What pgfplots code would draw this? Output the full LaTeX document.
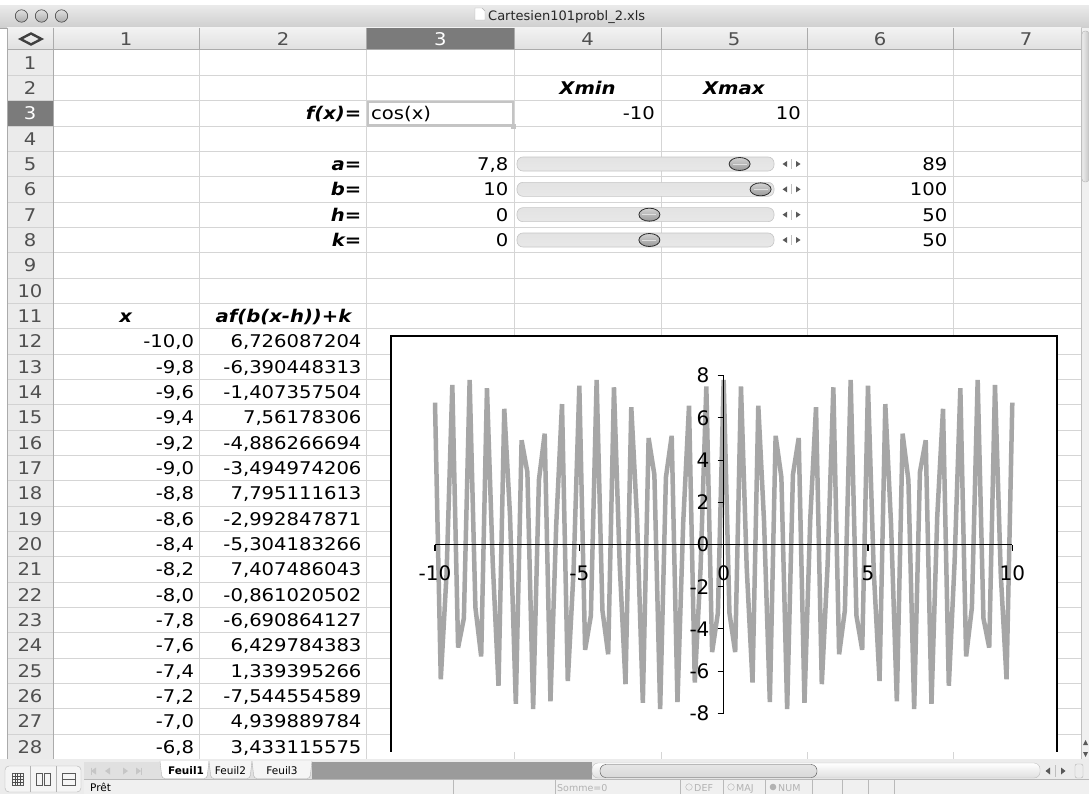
\documentclass[border=0pt]{standalone}
\usepackage{pgfplots}
\pgfplotsset{compat=1.18}
\usepackage{fontspec}
\setmainfont{DejaVu Sans}[FakeStretch=1.12]
\newfontfamily\chartfont{DejaVu Sans}
\newfontfamily\uifont{DejaVu Sans}
\definecolor{gridc}{HTML}{D5D5D5}
\definecolor{hdrtop}{HTML}{F2F2F2}
\definecolor{hdrbot}{HTML}{E0E0E0}
\definecolor{hdrline}{HTML}{ABABAB}
\definecolor{hdrtxt}{HTML}{505050}
\definecolor{sel}{HTML}{7B7B7B}
\definecolor{rowhdr}{HTML}{EBEBEB}
\definecolor{selbox}{HTML}{C4C4C4}
\definecolor{linec}{HTML}{A6A6A6}
\definecolor{tbtop}{HTML}{E9E9E9}
\definecolor{tbbot}{HTML}{CECECE}
\definecolor{band}{HTML}{9B9B9B}
\definecolor{statbg}{HTML}{F0F0F0}
\newcommand\cellfont{\fontsize{17.5}{21}\selectfont}
\newcommand\uismall{\uifont\fontsize{10.5}{12}\selectfont}
\newcommand\cellR[3]{\node[anchor=base east,inner sep=0pt,font=\cellfont] at (#1,{50+(#2-1)*25.333+19.3}) {#3};}
\newcommand\cellL[3]{\node[anchor=base west,inner sep=0pt,font=\cellfont] at (#1,{50+(#2-1)*25.333+19.3}) {#3};}
\newcommand\cellC[3]{\node[anchor=base,inner sep=0pt,font=\cellfont] at (#1,{50+(#2-1)*25.333+19.3}) {#3};}
\newcommand\slider[2]{%
  \pgfmathsetmacro\yc{50+(#1-1)*25.333+12.67}
  \shadedraw[top color=gray!22, middle color=white, bottom color=gray!18, draw=gray!45, rounded corners=6pt, line width=0.6pt] (517,\yc-7) rectangle (774,\yc+7);
  \fill[gray!70!black] (787,\yc-3) -- (787,\yc+3) -- (782.5,\yc) -- cycle;
  \fill[gray!70!black] (796,\yc-3) -- (796,\yc+3) -- (800.5,\yc) -- cycle;
  \draw[gray!50] (791.5,\yc-5) -- (791.5,\yc+5);
  \shadedraw[top color=gray!35, bottom color=gray!80, draw=gray!35!black, line width=0.8pt] (#2,\yc) ellipse [x radius=10.5pt, y radius=6.5pt];
  \draw[gray!25, line width=0.8pt] (#2-7,\yc) -- (#2+7,\yc);
}
\begin{document}
\begin{tikzpicture}
\useasboundingbox (0,0) rectangle (1089pt,-794pt);
\clip (0,0) rectangle (1089pt,-794pt);
\begin{scope}[x=1pt,y=-1pt]
  \fill[white] (0,0) rectangle (1089,794);
  % title bar
  \shade[top color=tbtop, bottom color=tbbot] (0,6) rectangle (1089,28);
  \draw[gray!70, line width=0.8pt] (0,28) -- (1089,28);
  \foreach \cx in {21.5,41.5,61.5} {\shadedraw[top color=gray!25, bottom color=gray!65, draw=gray!55!black, line width=0.6pt] (\cx,16) circle [radius=6.2pt];}
  \draw[gray!60, fill=white] (475,8) -- (482,8) -- (485,11) -- (485,20) -- (475,20) -- cycle;
  \node[anchor=base west, inner sep=0pt, font=\uifont\fontsize{13}{15}\selectfont, text=black!85] at (488,20.5) {Cartesien101probl\_2.xls};
  % grid
  \foreach \rr in {1,...,28} {\draw[gridc, line width=0.8pt] (53,{50+\rr*25.333}) -- (1081,{50+\rr*25.333});}
  \foreach \c in {199.3,366.7,514,661,807,953} {\draw[gridc, line width=0.8pt] (\c,50) -- (\c,759.3);}
  % column header
  \shade[top color=hdrtop, bottom color=hdrbot] (7,28) rectangle (1081,50);
  \fill[sel] (366.7,28) rectangle (514,50);
  \foreach \c in {53,199.3,366.7,514,661,807,953} {\draw[hdrline, line width=0.8pt] (\c,28) -- (\c,50);}
  \draw[hdrline, line width=1pt] (7,50) -- (1081,50);
  \foreach \cx/\lab in {126.2/1,283/2,587.5/4,734/5,880/6,1026/7} {\node[anchor=base,inner sep=0pt,font=\cellfont,text=hdrtxt] at (\cx,46) {\lab};}
  \node[anchor=base,inner sep=0pt,font=\cellfont,text=white] at (440.4,46) {3};
  \draw[black!75, line width=2.4pt, line join=miter] (20.5,39) -- (31,33.5) -- (41.5,39) -- (31,44.5) -- cycle;
  % row header
  \fill[rowhdr] (7,50) rectangle (53,759.3);
  \fill[sel] (7,{50+2*25.333}) rectangle (53,{50+3*25.333});
  \foreach \rr in {1,...,28} {\draw[gray!35, line width=0.8pt] (7,{50+\rr*25.333}) -- (53,{50+\rr*25.333});}
  \draw[hdrline, line width=1pt] (53,28) -- (53,759.3);
  \draw[hdrline, line width=0.8pt] (7,28) -- (7,759.3);
  \foreach \rr in {1,2,4,5,6,7,8,9,10,11,12,13,14,15,16,17,18,19,20,21,22,23,24,25,26,27,28} {\node[anchor=base,inner sep=0pt,font=\cellfont,text=hdrtxt] at (30,{50+(\rr-1)*25.333+19.3}) {\rr};}
  \node[anchor=base,inner sep=0pt,font=\cellfont,text=white] at (30,{50+2*25.333+19.3}) {3};
  % selection box
  \draw[selbox, line width=2.5pt] (367.8,101.9) rectangle (513,125.6);
  \fill[selbox] (511,123.6) rectangle (516,128.6);
  % cells
  \cellR{361.5}{3}{\textbf{\textit{f(x)=}}}
  \cellL{371}{3}{cos(x)}
  \cellC{587.5}{2}{\textbf{\textit{Xmin}}}
  \cellC{734}{2}{\textbf{\textit{Xmax}}}
  \cellR{655}{3}{-10}
  \cellR{801}{3}{10}
  \cellR{361.5}{5}{\textbf{\textit{a=}}}
  \cellR{361.5}{6}{\textbf{\textit{b=}}}
  \cellR{361.5}{7}{\textbf{\textit{h=}}}
  \cellR{361.5}{8}{\textbf{\textit{k=}}}
  \cellR{508.5}{5}{7,8}
  \cellR{508.5}{6}{10}
  \cellR{508.5}{7}{0}
  \cellR{508.5}{8}{0}
  \cellR{947.5}{5}{89}
  \cellR{947.5}{6}{100}
  \cellR{947.5}{7}{50}
  \cellR{947.5}{8}{50}
  \cellC{126}{11}{\textbf{\textit{x}}}
  \cellC{284}{11}{\textbf{\textit{af(b(x-h))+k}}}
  \cellR{194.3}{12}{-10,0}\cellR{361.7}{12}{6,726087204}
  \cellR{194.3}{13}{-9,8}\cellR{361.7}{13}{-6,390448313}
  \cellR{194.3}{14}{-9,6}\cellR{361.7}{14}{-1,407357504}
  \cellR{194.3}{15}{-9,4}\cellR{361.7}{15}{7,56178306}
  \cellR{194.3}{16}{-9,2}\cellR{361.7}{16}{-4,886266694}
  \cellR{194.3}{17}{-9,0}\cellR{361.7}{17}{-3,494974206}
  \cellR{194.3}{18}{-8,8}\cellR{361.7}{18}{7,795111613}
  \cellR{194.3}{19}{-8,6}\cellR{361.7}{19}{-2,992847871}
  \cellR{194.3}{20}{-8,4}\cellR{361.7}{20}{-5,304183266}
  \cellR{194.3}{21}{-8,2}\cellR{361.7}{21}{7,407486043}
  \cellR{194.3}{22}{-8,0}\cellR{361.7}{22}{-0,861020502}
  \cellR{194.3}{23}{-7,8}\cellR{361.7}{23}{-6,690864127}
  \cellR{194.3}{24}{-7,6}\cellR{361.7}{24}{6,429784383}
  \cellR{194.3}{25}{-7,4}\cellR{361.7}{25}{1,339395266}
  \cellR{194.3}{26}{-7,2}\cellR{361.7}{26}{-7,544554589}
  \cellR{194.3}{27}{-7,0}\cellR{361.7}{27}{4,939889784}
  \cellR{194.3}{28}{-6,8}\cellR{361.7}{28}{3,433115575}
  % sliders
  \slider{5}{739.6}
  \slider{6}{760.6}
  \slider{7}{649.4}
  \slider{8}{649.4}
  % chart area
  \fill[white] (391,336) rectangle (1057,751.7);
  \draw[black, line width=1.2pt] (391,751.7) -- (391,336) -- (1057,336) -- (1057,751.7);
  % vertical scrollbar
  \fill[gray!12] (1081,28) rectangle (1089,759.3);
  \draw[gray!50] (1081,28) -- (1081,759.3);
  \shadedraw[left color=gray!15, right color=gray!45, draw=gray!60, rounded corners=3pt] (1082,31) rectangle (1089,182);
  \fill[gray!70!black] (1083,745) -- (1088,745) -- (1085.5,740) -- cycle;
  \fill[gray!70!black] (1083,752) -- (1088,752) -- (1085.5,757) -- cycle;
  % bottom bars
  \fill[gray!15] (0,759.3) rectangle (1089,794);
  \fill[hdrbot] (84,762) rectangle (312,779);
  \fill[band] (312,762) rectangle (592,779);
  \draw[gray!60, fill=white, rounded corners=3pt] (160,761) -- (162,778.5) -- (207,778.5) -- (209,761);
  \draw[gray!60, fill=gray!8, rounded corners=3pt] (209,761) -- (211,778.5) -- (250,778.5) -- (252,761);
  \draw[gray!60, fill=gray!8, rounded corners=3pt] (252,761) -- (254,778.5) -- (310,778.5) -- (312,761);
  \node[anchor=base,inner sep=0pt,font=\uismall\bfseries] at (186,774.5) {Feuil1};
  \node[anchor=base,inner sep=0pt,font=\uismall] at (230.5,774.5) {Feuil2};
  \node[anchor=base,inner sep=0pt,font=\uismall] at (282,774.5) {Feuil3};
  \foreach \xx/\dd in {96/-1,110/-1,123/1,136/1} {\fill[gray!45] (\xx,767.5) -- (\xx,774.5) -- (\xx+\dd*5,771) -- cycle;}
  \draw[gray!45, line width=0.8pt] (91,767.5) -- (91,774.5) (141,767.5) -- (141,774.5);
  \shadedraw[top color=white, bottom color=gray!25, draw=gray!50, rounded corners=6pt] (592,763) rectangle (1040,778);
  \shadedraw[top color=gray!20, middle color=gray!45, bottom color=gray!30, draw=gray!60!black, rounded corners=6pt] (600,764.5) rectangle (817,777.5);
  \fill[gray!70!black] (1050,767.5) -- (1050,774.5) -- (1045.5,771) -- cycle;
  \fill[gray!70!black] (1061,767.5) -- (1061,774.5) -- (1065.5,771) -- cycle;
  \draw[gray!50] (1055.5,765) -- (1055.5,777);
  \draw[gray!60, fill=gray!15, rounded corners=2pt] (1075,764) rectangle (1083,778);
  \fill[statbg] (84,779) rectangle (1089,794);
  \draw[gray!55] (84,779) -- (1089,779);
  \draw[gray!60, fill=gray!8, rounded corners=4pt] (5,766) rectangle (81,792);
  \draw[gray!60] (30,766) -- (30,792) (56,766) -- (56,792);
  \draw[gray!70!black, line width=0.7pt] (12,773) rectangle (23,785);
  \foreach \gx in {14.75,17.5,20.25} {\draw[gray!60!black, line width=0.4pt] (\gx,773) -- (\gx,785);}
  \foreach \gy in {776,779,782} {\draw[gray!60!black, line width=0.4pt] (12,\gy) -- (23,\gy);}
  \draw[gray!70!black, line width=0.7pt] (36,773) rectangle (42,785) (44,773) rectangle (50,785);
  \draw[gray!70!black, line width=0.7pt] (62,773) rectangle (75,785) (62,779) -- (75,779);
  \node[anchor=base west,inner sep=0pt,font=\uismall] at (90,791) {Prêt};
  \foreach \sx in {453,555,680,723,765,812,842,868,894} {\draw[gray!55] (\sx,780) -- (\sx,794);}
  \node[anchor=base west,inner sep=0pt,font=\uifont\fontsize{9.5}{11}\selectfont,text=gray!60] at (557,791) {Somme=0};
  \draw[gray!60] (689,787) circle [radius=3.3pt];
  \node[anchor=base west,inner sep=0pt,font=\uifont\fontsize{9.5}{11}\selectfont,text=gray!60] at (694,791) {DEF};
  \draw[gray!60] (731,787) circle [radius=3.3pt];
  \node[anchor=base west,inner sep=0pt,font=\uifont\fontsize{9.5}{11}\selectfont,text=gray!60] at (736,791) {MAJ};
  \fill[gray!60] (773,787) circle [radius=3.3pt];
  \node[anchor=base west,inner sep=0pt,font=\uifont\fontsize{9.5}{11}\selectfont,text=gray!60] at (778,791) {NUM};
\end{scope}
\begin{axis}[
  at={(435pt,-713.3pt)}, anchor=south west,
  scale only axis, width=577.3pt, height=337.6pt,
  xmin=-10, xmax=10, ymin=-8, ymax=8,
  axis lines=middle, axis on top,
  axis line style={-, black, line width=1.1pt},
  tick style={black, line width=1.1pt},
  tick align=outside, major tick length=6pt,
  hide obscured x ticks=false, hide obscured y ticks=false,
  xtick={-10,-5,0,5,10}, xticklabels={-10,-5,0,5,10},
  ytick={-8,-6,-4,-2,0,2,4,6,8}, yticklabels={-8,-6,-4,-2,0,2,4,6,8},
  tick label style={font=\chartfont\fontsize{20}{24}\selectfont, inner sep=0pt},
  xticklabel style={anchor=base, yshift=-30.3pt},
  yticklabel style={anchor=east, xshift=-8pt},
  clip=false,
]
\addplot[linec, line width=4.5pt, line join=bevel, mark=none] coordinates {
(-10.0,6.726) (-9.8,-6.390) (-9.6,-1.407) (-9.4,7.562) (-9.2,-4.886) (-9.0,-3.495)
(-8.8,7.795) (-8.6,-2.993) (-8.4,-5.304) (-8.2,7.407) (-8.0,-0.861) (-7.8,-6.691)
(-7.6,6.430) (-7.4,1.339) (-7.2,-7.545) (-7.0,4.940) (-6.8,3.433) (-6.6,-7.797)
(-6.4,3.057) (-6.2,5.253) (-6.0,-7.429) (-5.8,0.930) (-5.6,6.655) (-5.4,-6.469)
(-5.2,-1.271) (-5.0,7.527) (-4.8,-4.993) (-4.6,-3.371) (-4.4,7.799) (-4.2,-3.120)
(-4.0,-5.202) (-3.8,7.450) (-3.6,-0.998) (-3.4,-6.619) (-3.2,6.507) (-3.0,1.203)
(-2.8,-7.508) (-2.6,5.046) (-2.4,3.309) (-2.2,-7.800) (-2.0,3.183) (-1.8,5.151)
(-1.6,-7.470) (-1.4,1.067) (-1.2,6.582) (-1.0,-6.545) (-0.8,-1.135) (-0.6,7.489)
(-0.4,-5.098) (-0.2,-3.246) (0.0,7.800)
(0.2,-3.246) (0.4,-5.098) (0.6,7.489) (0.8,-1.135) (1.0,-6.545) (1.2,6.582)
(1.4,1.067) (1.6,-7.470) (1.8,5.151) (2.0,3.183) (2.2,-7.800) (2.4,3.309)
(2.6,5.046) (2.8,-7.508) (3.0,1.203) (3.2,6.507) (3.4,-6.619) (3.6,-0.998)
(3.8,7.450) (4.0,-5.202) (4.2,-3.120) (4.4,7.799) (4.6,-3.371) (4.8,-4.993)
(5.0,7.527) (5.2,-1.271) (5.4,-6.469) (5.6,6.655) (5.8,0.930) (6.0,-7.429)
(6.2,5.253) (6.4,3.057) (6.6,-7.797) (6.8,3.433) (7.0,4.940) (7.2,-7.545)
(7.4,1.339) (7.6,6.430) (7.8,-6.691) (8.0,-0.861) (8.2,7.407) (8.4,-5.304)
(8.6,-2.993) (8.8,7.795) (9.0,-3.495) (9.2,-4.886) (9.4,7.562) (9.6,-1.407)
(9.8,-6.390) (10.0,6.726)
};
\end{axis}
\end{tikzpicture}
\end{document}
